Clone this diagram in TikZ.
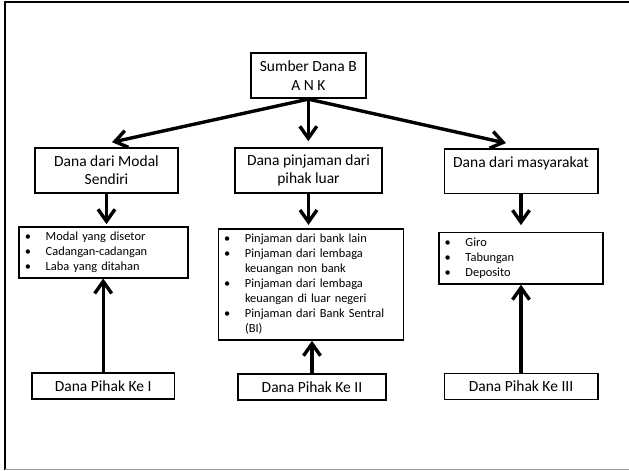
\documentclass[tikz,border=0pt]{standalone}
\usepackage{fontspec}
\setmainfont{Carlito}
\usetikzlibrary{arrows.meta,calc}

\begin{document}
\begin{tikzpicture}[x=1pt,y=-1pt,
  box/.style={draw,line width=1.7pt,inner sep=0pt,align=center,
    font=\fontsize{15.5}{18.5}\selectfont},
  listbox/.style={draw,line width=1.6pt,inner xsep=5.5pt,inner ysep=0pt,
    align=left,font=\fontsize{12.4}{15}\selectfont},
  flow/.style={line width=3.4pt,-{Straight Barb[length=12pt,width=17pt]}}]

\useasboundingbox (0,0) rectangle (629,471);

% page frame
\draw[line width=2.2pt] (5,469.5) -- (5,2) -- (629,2);
\draw[gray!75,line width=1.3pt] (5,469.5) -- (629,469.5);

% root
\node[box,minimum width=115.3pt,minimum height=45pt] (top) at (308.3,75.8)
  {Sumber Dana B\\A N K};

% source categories
\node[box,minimum width=142.4pt,minimum height=44.7pt] (mA) at (106.5,170.4)
  {Dana dari Modal\\Sendiri};
\node[box,minimum width=147.6pt,minimum height=44.7pt] (mB) at (308.5,170.4)
  {Dana pinjaman dari\\pihak luar};
\node[box,minimum width=153.3pt,minimum height=44.7pt] (mC) at (521,171)
  {Dana dari masyarakat\\\mbox{}};

% item lists
\node[listbox,text width=157.7pt,minimum height=51pt] (l1) at (103.6,252.2)
  {\begin{tabular}{@{}p{21pt}@{}l@{}}
   \textbullet & Modal yang disetor\\
   \textbullet & Cadangan-cadangan\\
   \textbullet & Laba yang ditahan
   \end{tabular}};
\node[listbox,text width=174pt,minimum height=111pt] (l2) at (311,284.5)
  {\begin{tabular}{@{}p{21pt}@{}l@{}}
   \textbullet & Pinjaman dari bank lain\\
   \textbullet & Pinjaman dari lembaga\\
               & keuangan non bank\\
   \textbullet & Pinjaman dari lembaga\\
               & keuangan di luar negeri\\
   \textbullet & Pinjaman dari Bank Sentral\\
               & (BI)
   \end{tabular}};
\node[listbox,text width=153pt,minimum height=51.3pt] (l3) at (521,258.3)
  {\begin{tabular}{@{}p{21pt}@{}l@{}}
   \textbullet & Giro\\
   \textbullet & Tabungan\\
   \textbullet & Deposito
   \end{tabular}};

% parties
\node[box,minimum width=142.5pt,minimum height=26pt] (p1) at (103.2,386)
  {Dana Pihak Ke I};
\node[box,minimum width=148pt,minimum height=26pt] (p2) at (312,387)
  {Dana Pihak Ke II};
\node[box,minimum width=153.3pt,minimum height=26pt] (p3) at (521,386.5)
  {Dana Pihak Ke III};

% connectors
\draw[flow] (top.south) -- ([xshift=5.5pt,yshift=5pt]mA.north);
\draw[flow] (top.south) -- ([yshift=6pt]top.south |- mB.north);
\draw[flow] (top.south) -- ([xshift=-15pt,yshift=4.7pt]mC.north);

\draw[flow,shorten >=1.7pt] (mA.south) -- (mA.south |- l1.north);
\draw[flow,shorten >=3.3pt] (mB.south) -- (mB.south |- l2.north);
\draw[flow,shorten >=6.7pt] (mC.south) -- (mC.south |- l3.north);

\draw[flow] (p1.north) -- (p1.north |- l1.south);
\draw[flow] (p2.north) -- (p2.north |- l2.south);
\draw[flow] (p3.north) -- (p3.north |- l3.south);
\end{tikzpicture}
\end{document}
